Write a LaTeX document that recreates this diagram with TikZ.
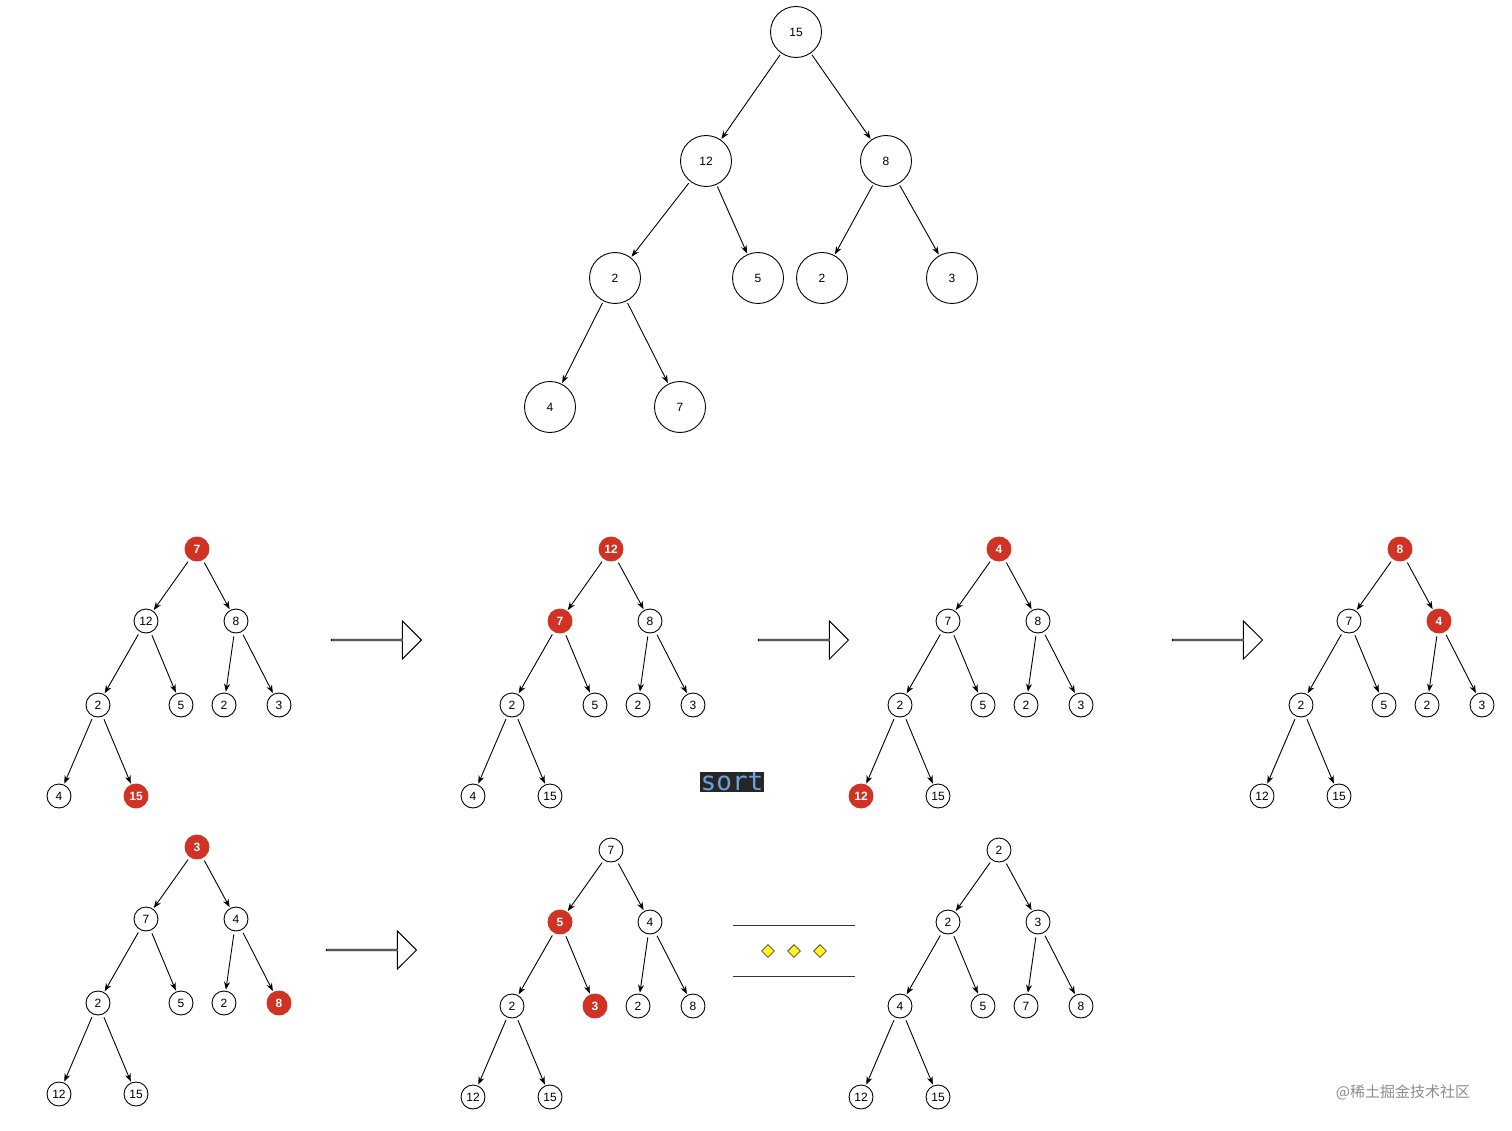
\documentclass[tikz,border=0pt]{standalone}
\usepackage{fontspec}
\setmainfont{Liberation Sans}
\setmonofont{DejaVu Sans Mono}
\newfontfamily\cjk{Noto Sans CJK SC}
\usetikzlibrary{arrows.meta,shapes.arrows,shapes.geometric}
\definecolor{hred}{HTML}{D03224}
\tikzset{
 x=1pt,y=-1pt,
 sn/.style={circle,draw,line width=0.9pt,minimum size=24pt,inner sep=0pt,font=\fontsize{12}{12}\selectfont},
 rn/.style={sn,fill=hred,draw=hred,text=white,font=\fontsize{12}{12}\selectfont\bfseries},
 bn/.style={circle,draw,line width=0.9pt,minimum size=51pt,inner sep=0pt,font=\fontsize{12}{12}\selectfont},
 ed/.style={-{Stealth[length=8pt,width=6pt]},line width=0.9pt,shorten <=3pt,shorten >=1pt},
 barrow/.style={single arrow,draw,line width=0.9pt,minimum height=90pt,single arrow head extend=11pt,minimum width=38pt,inner sep=0pt,single arrow tip angle=90,fill=white},
}
\newcommand\mytree[4]{%
 \begin{scope}[shift={(#2,#3)}]
 \foreach \l/\s [count=\i] in {#4}{
  \pgfmathsetmacro\dx{{0,-51,39,-99,-16,27,82,-138,-61}[\i-1]}
  \pgfmathsetmacro\dy{{0,72,72,156,156,156,156,247,247}[\i-1]}
  \node[\s] (#1\i) at (\dx,\dy) {\l};
 }
 \foreach \a/\b in {1/2,1/3,2/4,2/5,3/6,3/7,4/8,4/9}{\draw[ed] (#1\a) -- (#1\b);}
 \end{scope}}
\begin{document}
\begin{tikzpicture}
\useasboundingbox (0,0) rectangle (1512,1131);
% big tree
\node[bn] (b1) at (796,32) {15};
\node[bn] (b2) at (706,161) {12};
\node[bn] (b3) at (886,161) {8};
\node[bn] (b4) at (615,278) {2};
\node[bn] (b5) at (758,278) {5};
\node[bn] (b6) at (822,278) {2};
\node[bn] (b7) at (952,278) {3};
\node[bn] (b8) at (550,407) {4};
\node[bn] (b9) at (680,407) {7};
\foreach \a/\b in {1/2,1/3,2/4,2/5,3/6,3/7,4/8,4/9}{\draw[ed,shorten <=2pt] (b\a) -- (b\b);}
% small trees
\mytree{p}{197}{549}{7/rn,12/sn,8/sn,2/sn,5/sn,2/sn,3/sn,4/sn,15/rn}
\mytree{q}{611}{549}{12/rn,7/rn,8/sn,2/sn,5/sn,2/sn,3/sn,4/sn,15/sn}
\mytree{r}{999}{549}{4/rn,7/sn,8/sn,2/sn,5/sn,2/sn,3/sn,12/rn,15/sn}
\mytree{s}{1400}{549}{8/rn,7/sn,4/rn,2/sn,5/sn,2/sn,3/sn,12/sn,15/sn}
\mytree{t}{197}{847}{3/rn,7/sn,4/sn,2/sn,5/sn,2/sn,8/rn,12/sn,15/sn}
\mytree{u}{611}{850}{7/sn,5/rn,4/sn,2/sn,3/rn,2/sn,8/sn,12/sn,15/sn}
\mytree{v}{999}{850}{2/sn,2/sn,3/sn,4/sn,5/sn,7/sn,8/sn,12/sn,15/sn}
% block arrows
\node[barrow] (a1) at (376,640) {};
\node[barrow] (a2) at (803,640) {};
\node[barrow] (a3) at (1217,640) {};
\node[barrow] (a4) at (371,950) {};
% sort label
\node[fill=black!85,inner sep=1pt,text={cyan!60!blue!60!white},font=\fontsize{26}{26}\ttfamily] (srt) at (732,782) {sort};
% ellipsis
\coordinate (l1a) at (733,925); \coordinate (l1b) at (855,925);
\coordinate (l2a) at (733,976); \coordinate (l2b) at (855,976);
\draw[line width=1pt,black!80] (l1a) -- (l1b);
\draw[line width=1pt,black!80] (l2a) -- (l2b);
\foreach \x [count=\i] in {768,794,820}{
 \node[diamond,draw=black!70,fill=yellow!90!white,line width=0.8pt,minimum size=13pt,inner sep=0pt,shape aspect=1] (dm\i) at (\x,951) {};}
% watermark
\node[text=black!45,font=\fontsize{15}{15}\selectfont\cjk] (wm) at (1403,1092) {@稀土掘金技术社区};
\end{tikzpicture}
\end{document}
